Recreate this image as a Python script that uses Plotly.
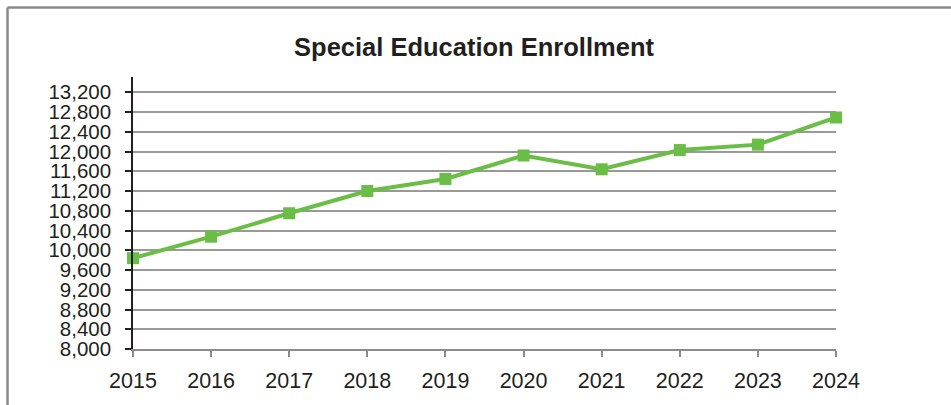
import plotly.graph_objects as go

years = ["2015", "2016", "2017", "2018", "2019", "2020", "2021", "2022", "2023", "2024"]
enrollment = [9840, 10275, 10750, 11200, 11445, 11920, 11640, 12030, 12140, 12690]
y_ticks = list(range(8000, 13201, 400))
y_tick_text = [f"{v:,}" for v in y_ticks]

W, H = 951, 405
ML, MR, MT, MB = 133, 115, 77, 56
PW, PH = W - ML - MR, H - MT - MB


def px_x(px):
    return (px - ML) / PW


def px_y(py):
    return (H - MB - py) / PH


fig = go.Figure()
fig.add_trace(go.Scatter(
    x=list(range(len(years))), y=enrollment, mode="lines+markers",
    line=dict(color="#6abd45", width=4),
    marker=dict(symbol="square", size=12, color="#6abd45"),
    cliponaxis=False, showlegend=False,
))

border = "#8a8a8a"
fig.update_layout(
    width=W, height=H,
    margin=dict(l=ML, r=MR, t=MT, b=MB, pad=0),
    paper_bgcolor="white", plot_bgcolor="white",
    font=dict(family="Liberation Sans, Arial, sans-serif", color="#231f20"),
    title=dict(text="<b>Special Education Enrollment</b>", x=474 / W, xref="container",
               xanchor="center", y=1 - 47 / H, yref="container", yanchor="middle",
               font=dict(size=25.5, color="#231f20")),
    xaxis=dict(range=[0, len(years) - 1], tickvals=list(range(len(years))), ticktext=years,
               showgrid=False, zeroline=False, showline=True, linecolor="#8c8c8c", linewidth=2,
               ticks="outside", ticklen=6, tickwidth=1.5, tickcolor="#8c8c8c",
               tickfont=dict(size=21.5), ticklabelstandoff=5),
    yaxis=dict(range=[8000, 13510], tickvals=y_ticks, ticktext=y_tick_text,
               showgrid=True, gridcolor="#999999", gridwidth=1.5, zeroline=False,
               showline=True, linecolor="#231f20", linewidth=1.5,
               ticks="outside", ticklen=6, tickwidth=1.5, tickcolor="#231f20",
               tickfont=dict(size=20.5), ticklabelstandoff=10),
    shapes=[
        dict(type="line", xref="paper", yref="paper", x0=px_x(7.5), x1=px_x(970),
             y0=px_y(7.5), y1=px_y(7.5), line=dict(color=border, width=2.5)),
        dict(type="line", xref="paper", yref="paper", x0=px_x(7.5), x1=px_x(7.5),
             y0=px_y(7.5), y1=px_y(430), line=dict(color=border, width=2.5)),
    ],
)

fig.write_html("out.html")
